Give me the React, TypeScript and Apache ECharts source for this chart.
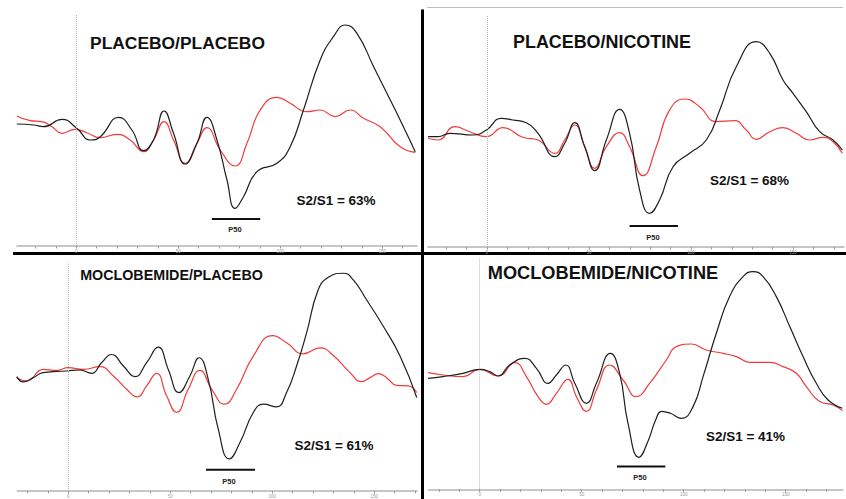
import React, { useEffect, useRef } from "react";
import * as echarts from "echarts";

// latency (ms), amplitude (µV)
const placeboPlaceboS2: [number, number][] = [
  [-29.1, 0.1], [-20.9, 0], [-16, -0.17], [-7, 0.57], [0.3, -0.33], [6.9, -1.5], [11.8, -1.17],
  [20.8, 0.77], [27.3, -0.5], [33, -2.57], [37.9, -1.5], [43.1, 1.4], [47.7, -0.83], [53.4, -3.9],
  [59.2, -1.83], [64.1, 0.77], [69, -1.5], [73.9, -5.5], [77.9, -8.33], [82, -7.17], [88.6, -4.67],
  [98.4, -3.83], [104.9, -2.17], [111.4, 1.5], [119.6, 6.5], [126.1, 8.83], [131.9, 10], [137.6, 9.17],
  [145.8, 5.83], [152.3, 3.17], [158.8, 0.5], [166.2, -2.67],
];
const placeboPlaceboS1: [number, number][] = [
  [-29.1, 0.9], [-22.5, 0.43], [-16.8, 0.33], [-11.9, -0.17], [-7, -0.83], [-0.5, -0.43], [5.2, -0.77],
  [11.8, -1.27], [19.9, -0.93], [26.5, -1.5], [33, -2.67], [37.9, -1.5], [43.1, 0.33], [47.7, -1.5],
  [53.4, -3.83], [59.2, -1.83], [64.1, -0.27], [70.6, -2.5], [77.9, -4.1], [83.7, -1.83], [90.2, 1.5],
  [98.4, 2.77], [104.9, 2.17], [113.1, 1.33], [119.6, 1.5], [127, 0.83], [134.3, 1.5], [140.8, 0.67],
  [149, -0.17], [158.8, -2.17], [166.2, -2.73],
];
const placeboNicotineS2: [number, number][] = [
  [-28.9, -0.17], [-24, -0.17], [-18.3, 0.17], [-6.9, 0], [-0.3, 0.5], [7, 1.67], [12.7, 1.5],
  [19.3, 1.23], [25, 0.17], [33.2, -2.17], [38.1, -0.83], [43, 1.23], [47.9, -1.17], [52.8, -3.57],
  [58.5, -0.5], [65, 2.57], [69.9, 0.17], [74.8, -5.5], [79.7, -7.83], [84.6, -6.5], [91.2, -3.17],
  [99.3, -1.83], [107.5, -0.5], [114.1, 2.5], [122.2, 6.83], [132, 9.33], [138.6, 8.17], [145.1, 5.5],
  [150, 4.17], [156.5, 2.33], [163.1, 0.33], [169.6, -0.5], [174.2, -1.5],
];
const placeboNicotineS1: [number, number][] = [
  [-28.9, -0.33], [-24, -0.5], [-15.8, 0.83], [-8.5, 0.33], [-0.3, -0.17], [7.8, 0.73], [17.6, -0.23],
  [25, -0.5], [33.2, -1.83], [38.1, -0.5], [43, 1], [47.9, -1.17], [52.8, -3.33], [58.5, -1.17],
  [65, 0.23], [69.9, -1.17], [76.5, -4.07], [83, -1.17], [89.5, 2.5], [96.9, 3.6], [104.2, 2.83],
  [112.4, 1.33], [121.4, 1.43], [127.1, 0.5], [132, -0.43], [138.6, 0.33], [145.1, 0.73], [151.6, 0.17],
  [158.2, -0.5], [164.7, -0.23], [169.6, -0.67], [174.2, -1.83],
];
const moclobemidePlaceboS2: [number, number][] = [
  [-25.3, -0.4], [-22.1, -0.93], [-17.2, -0.5], [-12.3, 0], [-0.8, 0.17], [5.7, 0.27], [11.4, -0.07],
  [16.3, 1], [21.2, 1.83], [27, 0.67], [32.7, -0.4], [38.4, 1], [44.1, 2.57], [49, 0.33], [54.2, -2],
  [59.6, -0.33], [64.1, 1.5], [68.6, -0.67], [73.5, -5.67], [78.9, -8.67], [84.2, -7], [90.7, -4],
  [95.6, -3.17], [102.1, -3.43], [107, -2], [111.9, 0.67], [116.8, 4], [122.5, 8.33], [127.5, 9.6],
  [134.8, 10], [139.7, 9.33], [146.2, 7.33], [154.4, 4.67], [162.6, 1.67], [170.8, -2.5],
];
const moclobemidePlaceboS1: [number, number][] = [
  [-25.3, -0.5], [-20.4, -0.83], [-12.3, 0.33], [-5.7, 0.23], [0, 0.5], [7.4, 0.33], [15.5, 0.6],
  [22.1, -0.33], [28.6, -1.67], [33.8, -2.43], [38.4, -1.33], [43.3, -0.07], [48.2, -2.33], [53.1, -4],
  [58.8, -1.67], [64.5, 0.23], [70.3, -1.67], [76.5, -3.17], [82.5, -1.67], [90.7, 1.67], [100.2, 3.73],
  [107, 3], [115.2, 1.9], [123.4, 2.5], [129.9, 1.73], [138.1, 0], [143.8, -0.9], [147.9, -0.5],
  [152, -0.1], [156, -0.5], [160.9, -1.27], [166.7, -1.33], [170.8, -2],
];
const moclobemideNicotineS2: [number, number][] = [
  [-25.3, -0.5], [-18, -0.33], [-8.2, 0], [0, 0.4], [4.9, 0.17], [9, -0.27], [14.7, 0.83], [22.1, 1.5],
  [27.8, 0.5], [33.5, -1], [37.6, -0.17], [42.2, 0.83], [46.6, -1], [52.3, -3], [57.2, -1], [64.1, 2],
  [68.6, 0], [72.7, -5], [78.1, -8.4], [82.5, -6.8], [86.2, -4.7], [89.3, -3.8], [93.5, -4.0],
  [98.9, -4.5], [104.6, -3.33], [109.5, -0.33], [116, 4], [122.5, 7.67], [129.1, 9.67], [134, 10.17],
  [138.9, 9.67], [145.4, 7.67], [152, 4.67], [158.5, 1.67], [165, -1], [170.8, -2.67], [177.8, -3.5],
];
const moclobemideNicotineS1: [number, number][] = [
  [-25.3, 0.07], [-18, -0.17], [-8.2, -0.33], [0, 0.4], [9, -0.27], [17.2, 1.07], [22.9, -0.33],
  [28.6, -2.33], [32.7, -3.1], [37.6, -2], [43.3, -0.6], [47.4, -2.33], [52.3, -3.8], [57.2, -1.67],
  [63.7, 0.83], [70.3, -0.67], [76.8, -2.33], [83.3, -1], [91.5, 1.33], [96.4, 2.67], [103.8, 2.93],
  [111.1, 2.33], [119.3, 2], [125.8, 1.67], [132.4, 1.1], [142.2, 1.1], [148.7, 0.67], [155.2, 0],
  [160.1, -1.33], [166.7, -2.83], [173.2, -3.17], [177.8, -3.73],
];

const titles = ["PLACEBO/PLACEBO", "PLACEBO/NICOTINE", "MOCLOBEMIDE/PLACEBO", "MOCLOBEMIDE/NICOTINE"];
const ratioLabels = ["S2/S1 = 63%", "S2/S1 = 68%", "S2/S1 = 61%", "S2/S1 = 41%"];
const p50Windows: [number, number][] = [[66.5, 90.2], [69.9, 93.6], [67.5, 91.5], [67.3, 91]];
const p50Levels = [-9.4, -9.1, -9.77, -9.33];
const xRanges: [number, number][] = [[-29, 167], [-29, 175], [-25, 171], [-25, 178]];
const yRanges: [number, number][] = [[-12.1, 11], [-11.2, 12], [-11.9, 11.1], [-11.6, 11.5]];
const labelledTicks = [0, 50, 100, 150];

const s2Series = [placeboPlaceboS2, placeboNicotineS2, moclobemidePlaceboS2, moclobemideNicotineS2];
const s1Series = [placeboPlaceboS1, placeboNicotineS1, moclobemidePlaceboS1, moclobemideNicotineS1];

// layout (pixels)
const zeroPos = [
  { x: 76.2, y: 125 },
  { x: 487, y: 135 },
  { x: 68.3, y: 373.3 },
  { x: 479.7, y: 373.3 },
];
const PX_PER_MS = 2.04;
const PX_PER_UV = 10;
const titlePos = [
  { x: 177.5, y: 43, size: 17.4 },
  { x: 602, y: 42, size: 17.9 },
  { x: 171.5, y: 274.5, size: 14.3 },
  { x: 603, y: 273, size: 18.2 },
];
const ratioPos = [
  { x: 336, y: 200.5 },
  { x: 749.5, y: 180.5 },
  { x: 334, y: 445 },
  { x: 745.5, y: 436 },
];
const p50Pos = [
  { x: 235, y: 229.5 },
  { x: 653, y: 237 },
  { x: 229, y: 481 },
  { x: 640, y: 477 },
];

const FONT = "'Liberation Sans', Arial, Helvetica, sans-serif";

export default function App() {
  const ref = useRef<HTMLDivElement>(null);
  useEffect(() => {
    if (!ref.current) return;
    const chart = echarts.init(ref.current, null, { renderer: "svg" });

    const grid: any[] = [];
    const xAxis: any[] = [];
    const yAxis: any[] = [];
    const series: any[] = [];
    const graphic: any[] = [];

    for (let i = 0; i < 4; i++) {
      const [xmin, xmax] = xRanges[i];
      const [ymin, ymax] = yRanges[i];
      const z = zeroPos[i];
      grid.push({
        left: z.x + xmin * PX_PER_MS,
        width: (xmax - xmin) * PX_PER_MS,
        top: z.y - ymax * PX_PER_UV,
        height: (ymax - ymin) * PX_PER_UV,
        containLabel: false,
      });
      const tickVals: number[] = [];
      for (let t = Math.ceil(xmin / 10) * 10; t <= xmax; t += 10) tickVals.push(t);
      xAxis.push({
        type: "value",
        gridIndex: i,
        min: xmin,
        max: xmax,
        position: "bottom",
        axisLine: { onZero: false, lineStyle: { color: "#b4b4b4", width: 1.5 } },
        axisTick: { show: true, customValues: tickVals, length: 2.5, lineStyle: { color: "#999", width: 1 } },
        axisLabel: { customValues: labelledTicks, fontSize: 4.5, color: "#999", margin: 3, fontFamily: FONT },
        splitLine: { show: false },
      });
      yAxis.push({
        type: "value",
        gridIndex: i,
        min: ymin,
        max: ymax,
        show: false,
        splitLine: { show: false },
      });
      series.push({
        type: "line",
        xAxisIndex: i,
        yAxisIndex: i,
        data: s1Series[i],
        smooth: 0.5,
        showSymbol: false,
        symbol: "none",
        lineStyle: { color: "#f03c3c", width: 1.2 },
        z: 2,
        markLine: {
          silent: true,
          symbol: "none",
          label: { show: false },
          lineStyle: { type: "dotted", color: "#b8b8b8", width: 1 },
          data: [{ xAxis: 0 }],
        },
      });
      series.push({
        type: "line",
        xAxisIndex: i,
        yAxisIndex: i,
        data: s2Series[i],
        smooth: 0.5,
        showSymbol: false,
        symbol: "none",
        lineStyle: { color: "#1e1e1e", width: 1.2 },
        z: 3,
      });
      series.push({
        type: "line",
        xAxisIndex: i,
        yAxisIndex: i,
        data: [
          [p50Windows[i][0], p50Levels[i]],
          [p50Windows[i][1], p50Levels[i]],
        ],
        showSymbol: false,
        symbol: "none",
        lineStyle: { color: "#111", width: 2 },
        z: 3,
      });

      graphic.push({
        type: "text",
        x: titlePos[i].x,
        y: titlePos[i].y,
        style: {
          text: titles[i],
          fontSize: titlePos[i].size,
          fontWeight: "bold",
          fontFamily: FONT,
          fill: "#111",
          align: "center",
          verticalAlign: "middle",
        },
      });
      graphic.push({
        type: "text",
        x: ratioPos[i].x,
        y: ratioPos[i].y,
        style: {
          text: ratioLabels[i],
          fontSize: 13.5,
          fontWeight: "bold",
          fontFamily: FONT,
          fill: "#111",
          align: "center",
          verticalAlign: "middle",
        },
      });
      graphic.push({
        type: "text",
        x: p50Pos[i].x,
        y: p50Pos[i].y,
        style: {
          text: "P50",
          fontSize: 7.5,
          fontWeight: "bold",
          fontFamily: FONT,
          fill: "#222",
          align: "center",
          verticalAlign: "middle",
        },
      });
    }

    // panel frames
    graphic.push({ type: "rect", shape: { x: 421, y: 9.5, width: 3, height: 490 }, style: { fill: "#000" } });
    graphic.push({ type: "rect", shape: { x: 13, y: 252, width: 833, height: 3 }, style: { fill: "#000" } });
    graphic.push({ type: "line", shape: { x1: 427, y1: 7.5, x2: 843, y2: 7.5 }, style: { stroke: "#bdbdbd", lineWidth: 1 } });

    chart.setOption({
      animation: false,
      backgroundColor: "#fff",
      grid,
      xAxis,
      yAxis,
      series,
      graphic,
    });
    return () => chart.dispose();
  }, []);
  return (
    <div
      ref={ref}
      style={{ position: "fixed", left: 0, top: 0, width: 846, height: 499 }}
    />
  );
}
